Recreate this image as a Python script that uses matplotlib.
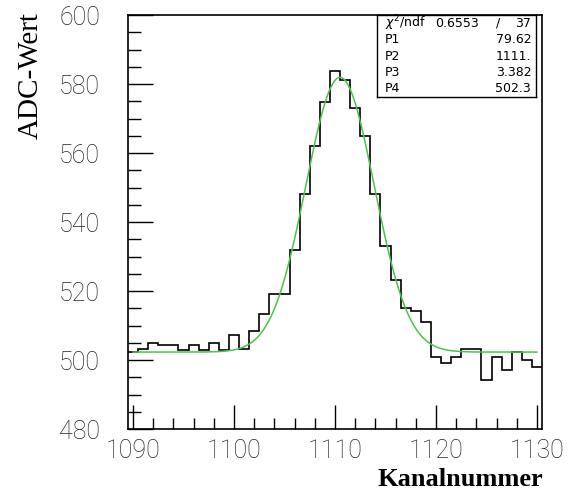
import numpy as np
import matplotlib
matplotlib.use('Agg')
import matplotlib.pyplot as plt

# Kanal-Histogramm (Bins zentriert auf ganzen Kanalnummern, 1090..1130)
kanaele = np.arange(1090, 1131)
adc = [502.2, 503.1, 505.0, 504.3, 504.3, 503.0, 504.3, 503.0, 505.0, 503.0,
       507.2, 503.1, 508.4, 513.3, 519.0, 519.0, 532.0, 548.2, 562.1, 574.9,
       583.9, 581.2, 573.0, 565.0, 548.2, 533.1, 523.1, 515.2, 514.2, 511.1,
       501.0, 499.1, 501.0, 503.1, 503.1, 494.2, 501.0, 497.1, 502.2, 500.0,
       498.1]

# Gauss-Fit: P1*exp(-0.5*((x-P2)/P3)^2) + P4
P1, P2, P3, P4 = 79.62, 1110.5, 3.382, 502.3
stat_zeilen = [("P1", "79.62"), ("P2", "1111."), ("P3", "3.382"), ("P4", "502.3")]

kanten = np.append(kanaele - 0.5, kanaele[-1] + 0.5)
x_fit = np.linspace(1090, 1130, 400)
y_fit = P1 * np.exp(-0.5 * ((x_fit - P2) / P3) ** 2) + P4

W, H = 571, 495
fig = plt.figure(figsize=(W / 100, H / 100), dpi=100)
ax = fig.add_axes([128 / W, 1 - 429 / H, (542 - 128) / W, (429 - 15) / H])

ax.stairs(adc, kanten, baseline=None, color='black', linewidth=1.2)
ax.plot(x_fit, y_fit, color='#4cc34c', linewidth=1.1)

ax.set_xlim(1089.5, 1130.5)
ax.set_ylim(480, 600)
ax.set_xticks(np.arange(1090, 1131, 10))
ax.set_xticks(np.arange(1090, 1131, 2), minor=True)
ax.set_yticks(np.arange(480, 601, 20))
ax.set_yticks(np.arange(480, 601, 5), minor=True)

ax.tick_params(which='both', direction='in', top=False, right=False, width=1.0,
               labelsize=18, colors='black', labelcolor='#222222')
ax.tick_params(axis='x', which='major', length=17, pad=7)
ax.tick_params(axis='x', which='minor', length=8)
ax.tick_params(axis='y', which='major', length=18, pad=20)
ax.tick_params(axis='y', which='minor', length=9)
for lab in ax.get_xticklabels() + ax.get_yticklabels():
    lab.set_fontfamily('Roboto')
    lab.set_fontweight('light')
for s in ax.spines.values():
    s.set_linewidth(1.2)

fig.text(31 / W, 1 - 12 / H, "ADC-Wert", rotation=90, ha='center', va='top',
         family='Liberation Serif', fontsize=21)
fig.text(543 / W, 1 - 479 / H, "Kanalnummer", ha='right', va='center',
         family='Liberation Serif', fontsize=19, fontweight='bold')

# Statistik-Box
box = ax.inset_axes([(377 - 128) / (542 - 128), (429 - 97) / (429 - 15),
                     (536 - 377) / (542 - 128), (97 - 15) / (429 - 15)])
box.set_xticks([])
box.set_yticks([])
box.set_xlim(0, 1)
box.set_ylim(0, 1)
for s in box.spines.values():
    s.set_linewidth(1.0)
zeile_y = [0.9, 0.7, 0.5, 0.3, 0.1]
fs = 9
box.text(0.05, zeile_y[0], r"$\chi^2$/ndf", ha='left', va='center', fontsize=fs, family='DejaVu Sans')
box.text(0.50, zeile_y[0], "0.6553", ha='center', va='center', fontsize=fs, family='DejaVu Sans')
box.text(0.76, zeile_y[0], "/", ha='center', va='center', fontsize=fs, family='DejaVu Sans')
box.text(0.97, zeile_y[0], "37", ha='right', va='center', fontsize=fs, family='DejaVu Sans')
for (name, wert), yy in zip(stat_zeilen, zeile_y[1:]):
    box.text(0.05, yy, name, ha='left', va='center', fontsize=fs, family='DejaVu Sans')
    box.text(0.97, yy, wert, ha='right', va='center', fontsize=fs, family='DejaVu Sans')

fig.savefig('out.png', dpi=100)
